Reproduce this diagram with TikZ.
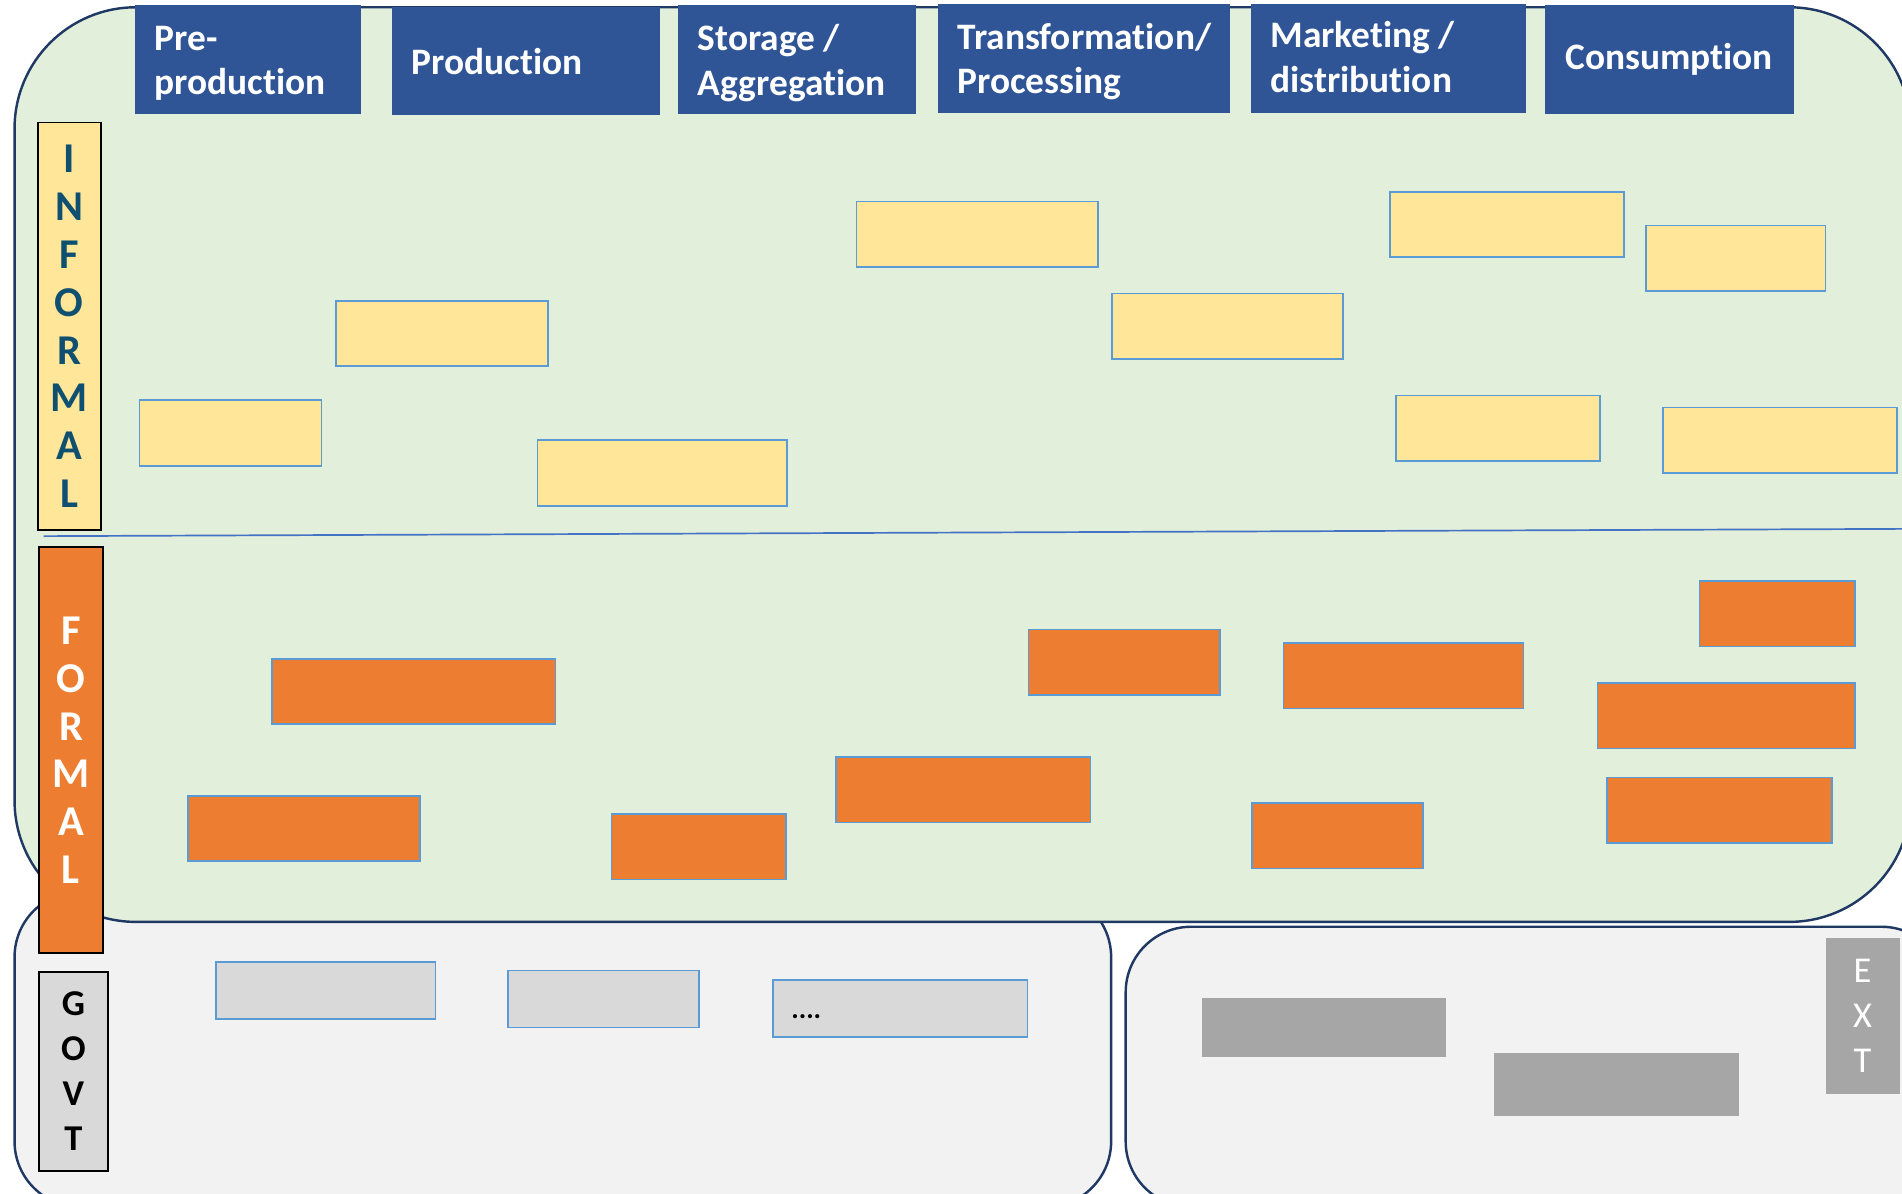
\documentclass[tikz,border=0pt]{standalone}
\usepackage{fontspec}
\setmainfont{Carlito}[Ligatures=NoCommon]
\definecolor{panelgreen}{HTML}{E2EFDA}
\definecolor{panelgrey}{HTML}{F2F2F2}
\definecolor{navyline}{HTML}{1F3864}
\definecolor{hdrblue}{HTML}{2F5597}
\definecolor{infyellow}{HTML}{FFE699}
\definecolor{forange}{HTML}{ED7D31}
\definecolor{govgrey}{HTML}{D9D9D9}
\definecolor{extgrey}{HTML}{A6A6A6}
\definecolor{boxblue}{HTML}{5B9BD5}
\definecolor{divblue}{HTML}{4472C4}
\definecolor{inftext}{HTML}{0F5070}
\newcommand\bx[6]{%
  \pgfmathsetlengthmacro\bxw{(#5-#3)*0.5pt}%
  \pgfmathsetlengthmacro\bxh{(#6-#4)*0.5pt}%
  \node[#1,anchor=north west,inner sep=0pt,outer sep=0pt,minimum width=\bxw,minimum height=\bxh] (#2) at (#3,#4) {};}
\tikzset{
  panelbox/.style={draw=navyline,line width=1pt,rounded corners=27pt},
  greenpanel/.style={draw=navyline,line width=1pt,fill=panelgreen,rounded corners=50pt},
  hdrbox/.style={fill=hdrblue},
  hdrtext/.style={text=white,font=\bfseries\fontsize{15.4}{18.2}\selectfont,align=left,inner sep=0pt,anchor=west},
  sidelabel/.style={draw=black,line width=0.8pt},
  lettertext/.style={align=center,inner sep=0pt,font=\bfseries\fontsize{17.5}{19.75}\selectfont},
  ibox/.style={fill=infyellow,draw=boxblue,line width=0.7pt},
  fbox/.style={fill=forange,draw=boxblue,line width=0.7pt},
  gbox/.style={fill=govgrey,draw=boxblue,line width=0.7pt},
  ebox/.style={fill=extgrey},
  divider/.style={draw=divblue,line width=0.7pt}
}
\begin{document}
\begin{tikzpicture}[x=0.5pt,y=-0.5pt]
\useasboundingbox (0,0) rectangle (1568,984);
\clip (0,0) rectangle (1568,984);
% lower panels
\bx{panelbox,fill=panelgrey}{govpanel}{12}{735}{916}{995}
\bx{panelbox,fill=panelgrey}{extpanel}{928}{764}{1605}{995}
% main green panel
\bx{greenpanel}{valuechain}{12}{6}{1575}{760}
% divider
\coordinate (divL) at (36,442);
\coordinate (divR) at (1568,436);
\draw[divider] (divL) -- (divR);
% side labels
\bx{sidelabel,fill=infyellow}{inflabel}{31}{101}{83}{437}
\node[lettertext,text=inftext] (inftxt) at (inflabel.center) {I\\N\\F\\O\\R\\M\\A\\L};
\bx{sidelabel,fill=forange}{formlabel}{32}{451}{85}{786}
\node[lettertext,text=white] (formtxt) at (formlabel.center) {F\\O\\R\\M\\A\\L};
\bx{sidelabel,fill=govgrey}{govlabel}{32}{801}{89}{965}
\node[align=center,inner sep=0pt,font=\bfseries\fontsize{15}{18.5}\selectfont,text=black] (govtxt) at (govlabel.center) {G\\O\\V\\T};
\bx{ebox}{extlabel}{1505}{773}{1566}{902}
\node[align=center,inner sep=0pt,font=\fontsize{15}{18.5}\selectfont,text=white] (exttxt) at (extlabel.center) {E\\X\\T};
% header boxes
\bx{hdrbox}{h1}{111}{4}{298}{94}
\bx{hdrbox}{h2}{323}{6}{544}{95}
\bx{hdrbox}{h3}{559}{4}{755}{94}
\bx{hdrbox}{h4}{773}{3}{1014}{93}
\bx{hdrbox}{h5}{1031}{3}{1258}{93}
\bx{hdrbox}{h6}{1274}{4}{1479}{94}
\node[hdrtext] (h1t) at ([xshift=8pt,yshift=-1.5pt]h1.west) {Pre-\\production};
\node[hdrtext] (h2t) at ([xshift=8pt]h2.west) {Production};
\node[hdrtext] (h3t) at ([xshift=8pt,yshift=-1.5pt]h3.west) {Storage /\\Aggregation};
\node[hdrtext] (h4t) at ([xshift=8pt,yshift=-1.5pt]h4.west) {Transformation/\\Processing};
\node[hdrtext] (h5t) at ([xshift=8pt,yshift=0.5pt]h5.west) {Marketing /\\distribution};
\node[hdrtext] (h6t) at ([xshift=8pt]h6.west) {Consumption};
% informal boxes
\bx{ibox}{i1}{706}{166}{905}{220}
\bx{ibox}{i2}{1146}{158}{1339}{212}
\bx{ibox}{i3}{1357}{186}{1505}{240}
\bx{ibox}{i4}{277}{248}{452}{302}
\bx{ibox}{i5}{917}{242}{1107}{296}
\bx{ibox}{i6}{115}{330}{265}{384}
\bx{ibox}{i7}{443}{363}{649}{417}
\bx{ibox}{i8}{1151}{326}{1319}{380}
\bx{ibox}{i9}{1371}{336}{1564}{390}
% formal boxes
\bx{fbox}{f1}{1401}{479}{1529}{533}
\bx{fbox}{f2}{848}{519}{1006}{573}
\bx{fbox}{f3}{1058}{530}{1256}{584}
\bx{fbox}{f4}{224}{543}{458}{597}
\bx{fbox}{f5}{1317}{563}{1529}{617}
\bx{fbox}{f6}{689}{624}{899}{678}
\bx{fbox}{f7}{1325}{641}{1510}{695}
\bx{fbox}{f8}{155}{656}{346}{710}
\bx{fbox}{f9}{504}{671}{648}{725}
\bx{fbox}{f10}{1032}{662}{1173}{716}
% government boxes
\bx{gbox}{g1}{178}{793}{359}{840}
\bx{gbox}{g2}{419}{800}{576}{847}
\bx{gbox}{g3}{637}{808}{847}{855}
\node[anchor=base west,inner sep=0pt,font=\bfseries\fontsize{11.5}{14}\selectfont] (g3t) at (652,840) {....};
% external boxes
\bx{ebox}{e1}{991}{823}{1192}{871}
\bx{ebox}{e2}{1232}{868}{1434}{920}
\end{tikzpicture}
\end{document}
